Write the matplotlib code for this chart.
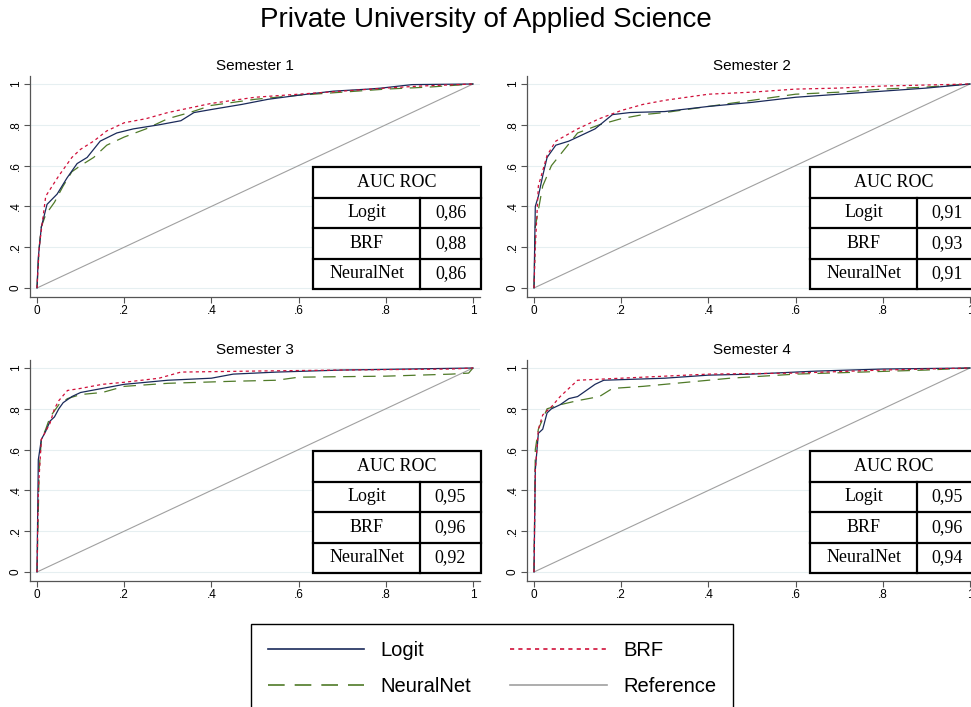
import matplotlib
matplotlib.use('Agg')
import matplotlib.pyplot as plt
from matplotlib.lines import Line2D
from matplotlib.patches import Rectangle

plt.rcParams['font.family'] = ['Liberation Sans', 'DejaVu Sans']

semesters = ['Semester 1', 'Semester 2', 'Semester 3', 'Semester 4']
models = ['Logit', 'BRF', 'NeuralNet']
auc_logit = ['0,86', '0,91', '0,95', '0,95']
auc_brf = ['0,88', '0,93', '0,96', '0,96']
auc_nn = ['0,86', '0,91', '0,92', '0,94']
tick_vals = [0, 0.2, 0.4, 0.6, 0.8, 1]
tick_labels = ['0', '.2', '.4', '.6', '.8', '1']

# ROC-Kurven (FPR, TPR)
sem1_logit_x = [0, 0.003, 0.01, 0.023, 0.046, 0.069, 0.092, 0.115, 0.145, 0.183, 0.221, 0.28, 0.33, 0.36, 0.40, 0.47, 0.53, 0.60, 0.68, 0.76, 0.79, 0.86, 1]
sem1_logit_y = [0, 0.15, 0.30, 0.41, 0.46, 0.54, 0.61, 0.64, 0.72, 0.76, 0.78, 0.80, 0.82, 0.86, 0.875, 0.90, 0.925, 0.945, 0.965, 0.975, 0.98, 0.997, 1]
sem1_brf_x = [0, 0.005, 0.02, 0.05, 0.08, 0.10, 0.13, 0.16, 0.20, 0.25, 0.30, 0.40, 0.50, 0.60, 0.70, 0.80, 0.88, 1]
sem1_brf_y = [0, 0.2, 0.45, 0.55, 0.64, 0.68, 0.72, 0.77, 0.81, 0.83, 0.86, 0.905, 0.935, 0.95, 0.965, 0.98, 0.99, 1]
sem1_nn_x = [0, 0.005, 0.01, 0.02, 0.04, 0.06, 0.08, 0.10, 0.13, 0.16, 0.20, 0.25, 0.30, 0.35, 0.40, 0.50, 0.60, 0.70, 0.80, 0.90, 1]
sem1_nn_y = [0, 0.2, 0.3, 0.36, 0.42, 0.50, 0.57, 0.60, 0.64, 0.70, 0.74, 0.78, 0.83, 0.86, 0.895, 0.925, 0.945, 0.96, 0.975, 0.985, 1]

sem2_logit_x = [0, 0.003, 0.01, 0.02, 0.03, 0.05, 0.08, 0.12, 0.14, 0.18, 0.22, 0.30, 0.40, 0.50, 0.60, 0.70, 0.80, 0.90, 1]
sem2_logit_y = [0, 0.40, 0.45, 0.55, 0.64, 0.70, 0.72, 0.76, 0.78, 0.85, 0.86, 0.865, 0.89, 0.91, 0.935, 0.95, 0.965, 0.98, 1]
sem2_brf_x = [0, 0.003, 0.01, 0.03, 0.05, 0.10, 0.15, 0.20, 0.25, 0.30, 0.40, 0.50, 0.60, 0.70, 0.80, 0.90, 1]
sem2_brf_y = [0, 0.2, 0.5, 0.65, 0.72, 0.78, 0.83, 0.87, 0.90, 0.92, 0.95, 0.96, 0.975, 0.98, 0.99, 0.995, 1]
sem2_nn_x = [0, 0.003, 0.02, 0.04, 0.07, 0.10, 0.15, 0.20, 0.25, 0.30, 0.40, 0.50, 0.60, 0.70, 0.80, 0.90, 1]
sem2_nn_y = [0, 0.3, 0.5, 0.6, 0.68, 0.76, 0.80, 0.83, 0.85, 0.86, 0.89, 0.92, 0.95, 0.96, 0.975, 0.985, 1]

sem3_logit_x = [0, 0.003, 0.01, 0.02, 0.03, 0.04, 0.05, 0.06, 0.08, 0.10, 0.15, 0.20, 0.30, 0.40, 0.45, 0.55, 0.70, 1]
sem3_logit_y = [0, 0.55, 0.65, 0.69, 0.74, 0.76, 0.80, 0.83, 0.86, 0.88, 0.90, 0.92, 0.94, 0.95, 0.97, 0.98, 0.99, 1]
sem3_brf_x = [0, 0.003, 0.01, 0.03, 0.04, 0.05, 0.07, 0.10, 0.15, 0.20, 0.28, 0.33, 0.50, 0.70, 0.95, 1]
sem3_brf_y = [0, 0.40, 0.65, 0.73, 0.80, 0.84, 0.89, 0.90, 0.92, 0.93, 0.95, 0.98, 0.985, 0.99, 0.995, 1]
sem3_nn_x = [0, 0.005, 0.01, 0.02, 0.03, 0.05, 0.07, 0.10, 0.15, 0.20, 0.30, 0.45, 0.55, 0.60, 0.80, 0.95, 0.99, 1]
sem3_nn_y = [0, 0.50, 0.65, 0.70, 0.76, 0.82, 0.85, 0.87, 0.88, 0.91, 0.925, 0.935, 0.94, 0.955, 0.96, 0.97, 0.975, 1]

sem4_logit_x = [0, 0.003, 0.01, 0.02, 0.03, 0.04, 0.06, 0.08, 0.10, 0.12, 0.14, 0.16, 0.30, 0.40, 0.50, 0.65, 0.80, 1]
sem4_logit_y = [0, 0.50, 0.68, 0.70, 0.78, 0.80, 0.82, 0.85, 0.86, 0.89, 0.92, 0.94, 0.95, 0.965, 0.97, 0.985, 0.995, 1]
sem4_brf_x = [0, 0.003, 0.01, 0.02, 0.04, 0.06, 0.08, 0.10, 0.20, 0.30, 0.40, 0.60, 0.80, 1]
sem4_brf_y = [0, 0.50, 0.70, 0.77, 0.81, 0.86, 0.90, 0.94, 0.95, 0.96, 0.97, 0.975, 0.99, 1]
sem4_nn_x = [0, 0.003, 0.01, 0.02, 0.03, 0.06, 0.10, 0.15, 0.18, 0.25, 0.35, 0.45, 0.60, 0.75, 0.90, 1]
sem4_nn_y = [0, 0.60, 0.70, 0.75, 0.80, 0.82, 0.84, 0.86, 0.90, 0.91, 0.93, 0.95, 0.97, 0.98, 0.99, 1]

logit_curves = [(sem1_logit_x, sem1_logit_y), (sem2_logit_x, sem2_logit_y), (sem3_logit_x, sem3_logit_y), (sem4_logit_x, sem4_logit_y)]
brf_curves = [(sem1_brf_x, sem1_brf_y), (sem2_brf_x, sem2_brf_y), (sem3_brf_x, sem3_brf_y), (sem4_brf_x, sem4_brf_y)]
nn_curves = [(sem1_nn_x, sem1_nn_y), (sem2_nn_x, sem2_nn_y), (sem3_nn_x, sem3_nn_y), (sem4_nn_x, sem4_nn_y)]

c_logit = '#1a2a5a'
c_brf = '#d0103a'
c_nn = '#4f7a28'
c_ref = '#a0a0a0'
nn_dash = (0, (10, 6))
brf_dash = (0, (2.5, 2.5))

W, H = 971, 707
fig = plt.figure(figsize=(9.71, 7.07), dpi=100)
fig.text(0.5, 1 - 20 / H, 'Private University of Applied Science', ha='center', va='center', fontsize=20)

# Achsenpositionen in Pixeln (links, unten)
panel_pos = [(30, 297), (527, 297), (30, 581), (527, 581)]
ax_w, ax_h = 450, 221


def draw_table(ax, vals):
    x0, y0 = 0.629, 0.036
    tw, th = 168 / ax_w, 122 / ax_h
    split = 107 / ax_w
    rh = th / 4
    kw = dict(transform=ax.transAxes, clip_on=False, zorder=10)
    ax.add_patch(Rectangle((x0, y0), tw, th, facecolor='white', edgecolor='black', lw=1.6, **kw))
    for i in range(1, 4):
        ax.add_line(Line2D([x0, x0 + tw], [y0 + rh * i] * 2, color='black', lw=1.6, **kw))
    ax.add_line(Line2D([x0 + split] * 2, [y0, y0 + rh * 3], color='black', lw=1.6, **kw))
    tkw = dict(transform=ax.transAxes, ha='center', va='center', fontsize=13,
               family='Liberation Serif', zorder=11, clip_on=False)
    ax.text(x0 + tw / 2, y0 + rh * 3.5, 'AUC ROC', **tkw)
    for i, (m, v) in enumerate(zip(models, vals)):
        yc = y0 + rh * (2.5 - i)
        ax.text(x0 + split / 2, yc, m, **tkw)
        ax.text(x0 + split + (tw - split) / 2, yc, v, **tkw)


for k in range(4):
    px, py = panel_pos[k]
    ax = fig.add_axes([px / W, (H - py) / H, ax_w / W, ax_h / H])
    sc_x = 436
    ax.set_xlim(-7 / sc_x, (ax_w - 7) / sc_x)
    ax.set_ylim(-9 / 204, (ax_h - 9) / 204)
    for s in ['top', 'right']:
        ax.spines[s].set_visible(False)
    for s in ['left', 'bottom']:
        ax.spines[s].set_color('#555555')
        ax.spines[s].set_linewidth(0.9)
    ax.set_xticks(tick_vals)
    ax.set_xticklabels(tick_labels)
    ax.set_yticks(tick_vals)
    ax.set_yticklabels(tick_labels, rotation=90, va='center')
    ax.tick_params(labelsize=8.5, length=4, color='#555555', width=0.8, pad=2)
    ax.grid(axis='y', color='#e6eff1', lw=0.8)
    ax.set_axisbelow(True)
    ax.set_title(semesters[k], fontsize=11, pad=4)

    ax.plot([0, 1], [0, 1], color=c_ref, lw=0.8)
    ax.plot(nn_curves[k][0], nn_curves[k][1], color=c_nn, lw=0.9, linestyle=nn_dash)
    ax.plot(logit_curves[k][0], logit_curves[k][1], color=c_logit, lw=0.9)
    ax.plot(brf_curves[k][0], brf_curves[k][1], color=c_brf, lw=0.9, linestyle=brf_dash)

    draw_table(ax, [auc_logit[k], auc_brf[k], auc_nn[k]])

handles = [
    Line2D([], [], color=c_logit, lw=1.2),
    Line2D([], [], color=c_nn, lw=1.2, linestyle=nn_dash),
    Line2D([], [], color=c_brf, lw=1.2, linestyle=brf_dash),
    Line2D([], [], color=c_ref, lw=1.2),
]
labels = ['Logit', 'NeuralNet', 'BRF', 'Reference']
leg = fig.legend(handles, labels, ncol=2, loc='upper center', bbox_to_anchor=(492 / W, 1 - 624 / H),
                 fontsize=14.5, handlelength=4.8, handletextpad=0.8, columnspacing=1.95,
                 labelspacing=0.82, fancybox=False, edgecolor='black', framealpha=1,
                 borderpad=0.85, borderaxespad=0)
leg.get_frame().set_linewidth(1.0)

fig.savefig('out.png', dpi=100)
